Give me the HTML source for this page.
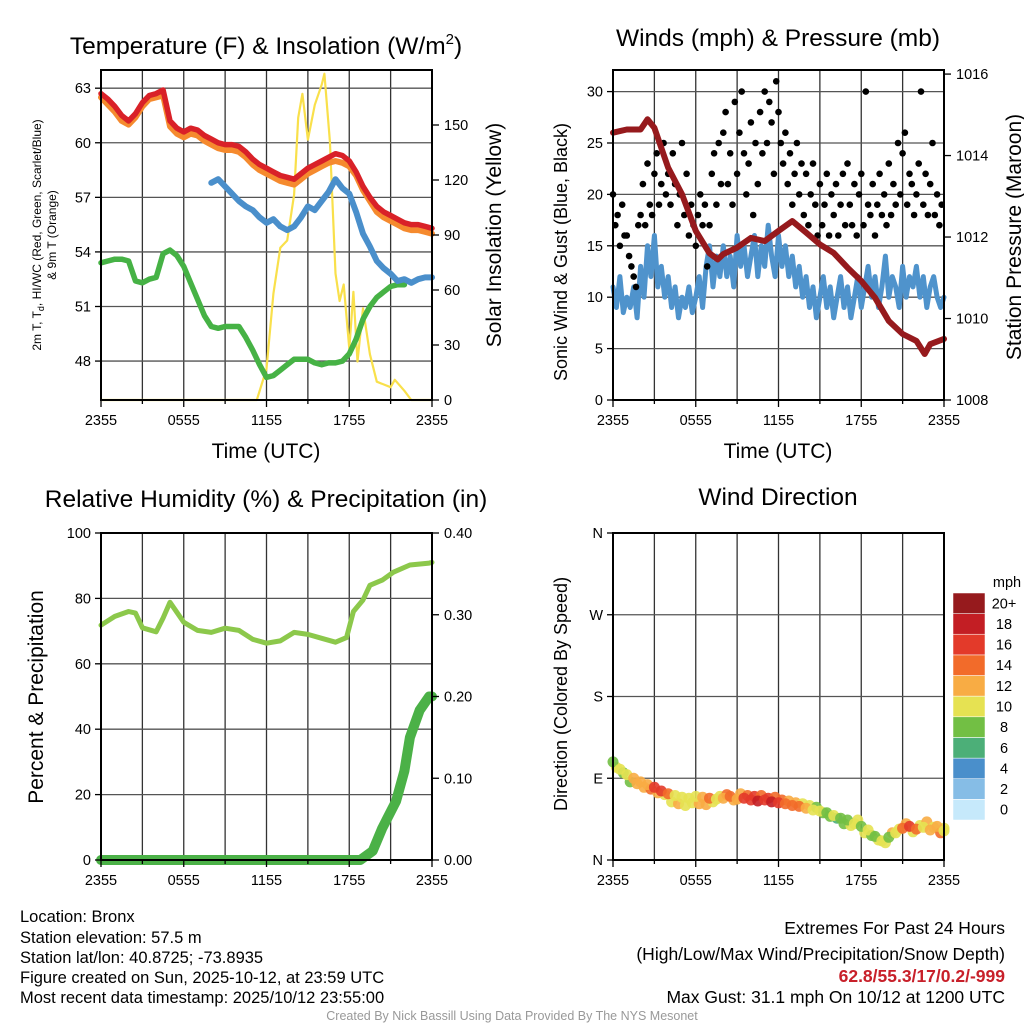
<!DOCTYPE html>
<html><head><meta charset="utf-8"><style>
html,body{margin:0;padding:0;background:#fff}
svg{display:block;font-family:"Liberation Sans",sans-serif}
</style></head><body>
<svg id="c" width="1024" height="1024" viewBox="0 0 1024 1024" xmlns="http://www.w3.org/2000/svg">
<g id="grid"></g><g id="marks"></g><g id="frames"></g>
<g id="texts" font-size="14.5" fill="#000">
<text x="266" y="54" font-size="24.5" text-anchor="middle">Temperature (F) &amp; Insolation (W/m<tspan dy="-10" font-size="15">2</tspan><tspan dy="10">)</tspan></text>
<text x="778" y="46" font-size="24.5" text-anchor="middle">Winds (mph) &amp; Pressure (mb)</text>
<text x="266" y="507" font-size="24.5" text-anchor="middle">Relative Humidity (%) &amp; Precipitation (in)</text>
<text x="778" y="505" font-size="24.5" text-anchor="middle">Wind Direction</text>
<text x="266" y="458" font-size="21" text-anchor="middle">Time (UTC)</text>
<text x="778" y="458" font-size="21" text-anchor="middle">Time (UTC)</text>
<g font-size="12" text-anchor="middle">
<text transform="translate(41,235) rotate(-90)">2m T, T<tspan dy="3" font-size="9">d</tspan><tspan dy="-3">, HI/WC (Red, Green, Scarlet/Blue)</tspan></text>
<text transform="translate(56,235) rotate(-90)">&amp; 9m T (Orange)</text>
</g>
<text transform="translate(501,235) rotate(-90)" font-size="21" text-anchor="middle">Solar Insolation (Yellow)</text>
<text transform="translate(567,252) rotate(-90)" font-size="18" text-anchor="middle">Sonic Wind &amp; Gust (Blue, Black)</text>
<text transform="translate(1021,237) rotate(-90)" font-size="21" text-anchor="middle">Station Pressure (Maroon)</text>
<text transform="translate(43,697) rotate(-90)" font-size="21" text-anchor="middle">Percent &amp; Precipitation</text>
<text transform="translate(567,694) rotate(-90)" font-size="18" text-anchor="middle">Direction (Colored By Speed)</text>
<g font-size="16.5">
<text x="20" y="922">Location: Bronx</text>
<text x="20" y="943">Station elevation: 57.5 m</text>
<text x="20" y="963">Station lat/lon: 40.8725; -73.8935</text>
<text x="20" y="983">Figure created on Sun, 2025-10-12, at 23:59 UTC</text>
<text x="20" y="1003">Most recent data timestamp: 2025/10/12 23:55:00</text>
</g>
<g font-size="17.5" text-anchor="end">
<text x="1005" y="934">Extremes For Past 24 Hours</text>
<text x="1005" y="960">(High/Low/Max Wind/Precipitation/Snow Depth)</text>
<text x="1005" y="982" fill="#c8202a" font-weight="bold">62.8/55.3/17/0.2/-999</text>
<text x="1005" y="1003">Max Gust: 31.1 mph On 10/12 at 1200 UTC</text>
</g>
<text x="512" y="1020" font-size="12.5" fill="#999" text-anchor="middle">Created By Nick Bassill Using Data Provided By The NYS Mesonet</text>
</g>
</svg>
<script>
// ---- data ----
const xTickLabels = ["2355","0555","1155","1755","2355"];
const halfHours = Array.from({length:49},(_, i)=>i/2);
const tempRed = [62.7,62.4,62.0,61.5,61.2,61.6,62.2,62.6,62.7,62.9,61.2,60.8,60.6,60.8,60.7,60.4,60.2,60.0,59.9,59.9,59.8,59.5,59.1,58.8,58.6,58.4,58.2,58.1,58.0,58.3,58.6,58.8,59.0,59.2,59.4,59.3,59.0,58.4,57.6,57.0,56.5,56.2,56.0,55.8,55.6,55.5,55.5,55.4,55.3];
const tempOrange = [62.5,62.1,61.7,61.2,61.0,61.4,62.0,62.4,62.5,62.6,60.9,60.5,60.3,60.5,60.4,60.1,59.9,59.7,59.6,59.6,59.5,59.2,58.8,58.5,58.3,58.1,57.9,57.8,57.7,58.0,58.3,58.5,58.7,58.9,59.0,58.9,58.7,58.2,57.4,56.8,56.2,55.9,55.7,55.5,55.3,55.2,55.2,55.1,55.0];
const blueHours = Array.from({length:33},(_, i)=>8+i/2);
const tempBlue = [57.8,58.0,57.6,57.2,56.8,56.5,56.3,55.9,55.6,55.8,55.4,55.2,55.4,55.9,56.5,56.3,56.8,57.3,58.0,57.5,57.2,56.2,55.0,54.3,53.5,53.1,52.8,52.4,52.5,52.3,52.5,52.6,52.6];
const greenHours = Array.from({length:45},(_, i)=>i/2);
const dewGreen = [53.4,53.5,53.6,53.6,53.5,52.4,52.3,52.5,52.6,53.9,54.1,53.8,53.2,52.3,51.4,50.5,49.9,49.8,49.9,49.9,49.9,49.3,48.6,47.8,47.1,47.2,47.5,47.8,48.1,48.1,48.1,47.9,47.8,47.9,47.9,48.0,48.4,49.2,50.3,51.0,51.5,51.8,52.1,52.2,52.2];
const solarHours = [0,11.3,12,12.5,13,13.5,14,14.3,14.6,15,15.5,16,16.2,16.6,17,17.3,17.6,18,18.3,18.6,19,19.5,20,21,21.3,22,22.5,24];
const solarVals = [0,0,17,58,83,87,112,154,167,142,161,172,178,141,69,54,63,28,59,21,50,25,10,7,11,5,0,0];
const presHours = [0,1,2,2.5,3,4,5,6,7,7.6,8,9,10,11,12,13,14,15,16,17,18,19,20,21,22,22.6,23,24];
const presVals = [1014.56,1014.64,1014.64,1014.89,1014.68,1013.70,1013.05,1012.15,1011.6,1011.45,1011.58,1011.74,1011.98,1011.90,1012.15,1012.39,1012.11,1011.82,1011.61,1011.25,1010.92,1010.51,1009.94,1009.62,1009.45,1009.13,1009.37,1009.50];
const windVals = [11,9,12,8.5,10,9,11,8,13,10,15,12,16,11,13,10,12,9,11,8,10,9,11,8.5,10,12,9,13,15,11,14,12,15,12,14,11,16,13,15,12,14,16,12,15,13,17,14,12,16,13,15,12,14,11,13,10,12,9,11,8,10,12,9,11,8,10,12,9,11,8,10,12,9,11,13,10,12,9,11,14,10,12,11,9,13,10,12,11,13,10,12,9,11,12,10,9,10];
const gustVals = [20,17,18,15,19,16,16,14,13,12,11,17,18,21,17,23,19,18,22,24,19,21,25,20,22,19,24,21,17,20,25,18,22,16,19,17,15,18,20,17,19,13,17,22,24,19,25,21,26,28,21,24,19,29,22,26,30,24,20,23,27,18,25,21,28,24,30,25,29,27,22,31,28,25,23,26,21,24,19,22,25,20,23,18,22,17,20,23,19,16,21,17,19,22,16,20,18,21,16,19,22,17,23,19,17,21,16,20,22,17,30,19,18,21,16,19,22,18,20,17,23,18,21,19,25,20,24,26,19,22,21,18,20,23,30,19,22,18,21,25,18,20,17,19];
const rhHours = [0,1,2,2.5,3,4,4.5,5,6,7,8,9,10,11,12,13,14,15,16,17,17.8,18.3,19,19.5,20.4,21.2,22.4,23.8,24];
const rhVals = [71.8,74.5,76,75.5,71,69.8,74,78.8,72.7,70.2,69.6,70.9,70.2,67.5,66.3,67,69.6,69,67.8,66.6,68,76,79.5,84,85.6,88,90.2,90.8,91];
const precipHours = [0,18.8,19.7,20.4,21.4,22,22.4,23.1,23.8,24];
const precipVals = [0,0,0.011,0.039,0.072,0.109,0.15,0.183,0.2,0.2];
const dirVals = [108,100,94,90,86,83,80,76,73,71,69,68,70,69,68,67,68,70,67,68,66,65,66,64,63,62,60,59,57,55,54,52,49,46,44,40,37,33,26,21,25,30,35,37,34,36,33,37,32];
const dirVals2 = [102,96,86,84,80,78,74,72,64,62,60,63,62,61,64,70,72,66,73,71,70,71,68,69,66,65,63,62,60,58,52,48,46,40,38,44,30,27,22,19,30,34,40,31,38,42,36,30,35];
const dirSpeeds = [8,10,11,12,12,13,16,17,15,11,10,10,10,12,14,11,13,15,12,16,17,18,17,18,16,14,15,14,12,11,10,9,10,9,8,10,9,10,8,10,9,11,14,16,15,10,12,13,11];
const dirSpeeds2 = [10,9,8,12,13,15,12,10,11,12,10,11,13,12,10,11,14,12,13,15,16,14,17,15,14,12,13,11,10,9,8,9,7,8,10,11,10,9,10,11,12,10,12,10,11,13,10,15,10];
const cbLabels = ["0","2","4","6","8","10","12","14","16","18","20+"];
const cbColors = ["#c6e9fb","#86bde6","#4a8fcb","#4caf78","#72bf44","#e6e252","#f8ac44","#f26b2a","#e33a2a","#c31e24","#961a1d"];

// ---- helpers ----
const NS="http://www.w3.org/2000/svg";
const G=id=>document.getElementById(id);
function mk(tag,parent,attrs){const e=document.createElementNS(NS,tag);for(const k in attrs)e.setAttribute(k,attrs[k]);G(parent).appendChild(e);return e;}
const P1={x0:101,x1:432,y0:70,y1:400}, P2={x0:613,x1:944,y0:70,y1:400}, P3={x0:101,x1:432,y0:533,y1:860}, P4={x0:613,x1:944,y0:533,y1:860};
function xs(p){return h=>p.x0+(p.x1-p.x0)*h/24;}
function ys(p,lo,hi){return v=>p.y1-(p.y1-p.y0)*(v-lo)/(hi-lo);}
function path(xf,yf,hs,vs){return hs.map((h,i)=>(i?'L':'M')+xf(h).toFixed(1)+','+yf(vs[i]).toFixed(1)).join('');}

function frame(p,name,leftTicks,ly,rightTicks,ry){
  for(let k=1;k<8;k++){const x=xs(p)(k*3);
    const l=mk('line','grid',{x1:x,x2:x,y1:p.y0,y2:p.y1,stroke:'#333','stroke-width':1.3});
    
    }
  leftTicks.forEach(t=>{const y=ly(t.v);
    if(y>p.y0+1&&y<p.y1-1){const l=mk('line','grid',{x1:p.x0,x2:p.x1,y1:y,y2:y,stroke:'#555','stroke-width':1.3});
      
      }
    mk('line','frames',{x1:p.x0-6,x2:p.x0,y1:y,y2:y,stroke:'#000','stroke-width':1.3});
    const tx=mk('text','texts',{x:p.x0-10,y:y+5,'text-anchor':'end'});tx.textContent=t.l;
    
    });
  rightTicks.forEach(t=>{const y=ry(t.v);
    mk('line','frames',{x1:p.x1,x2:p.x1+7,y1:y,y2:y,stroke:'#000','stroke-width':1.3});
    const tx=mk('text','texts',{x:p.x1+12,y:y+5});tx.textContent=t.l;
    
    });
  for(let k=0;k<=8;k++){const x=xs(p)(k*3);mk('line','frames',{x1:x,x2:x,y1:p.y1,y2:p.y1+(k%2?4:7),stroke:'#000','stroke-width':1.3});}
  xTickLabels.forEach((s,i)=>{const tx=mk('text','texts',{x:xs(p)(i*6),y:p.y1+25,'text-anchor':'middle'});tx.textContent=s;
    
    });
  const r=mk('rect','frames',{x:p.x0,y:p.y0,width:p.x1-p.x0,height:p.y1-p.y0,fill:'none',stroke:'#000','stroke-width':2});
  
  
}
function line(d,color,w,name){const e=mk('path','marks',{d:d,fill:'none',stroke:color,'stroke-width':w,'stroke-linejoin':'round','stroke-linecap':'round'});
  
  return e;}

// ---- panel 1 ----
{const x=xs(P1), yT=ys(P1,45.86,64.0), yS=ys(P1,0,180);
 frame(P1,'temp',[48,51,54,57,60,63].map(v=>({v,l:String(v)})),yT,[0,30,60,90,120,150].map(v=>({v,l:String(v)})),yS);
 line(path(x,yS,solarHours,solarVals),'#f9e04b',2.2,'solar-line');
 line(path(x,yT,greenHours,dewGreen),'#46b245',5.5,'dewpoint-line');
 line(path(x,yT,blueHours,tempBlue),'#4a8fcb',6,'windchill-line');
 line(path(x,yT,halfHours,tempOrange),'#f58a2e',6,'temp-9m-line');
 line(path(x,yT,halfHours,tempRed),'#d92128',5.5,'temp-2m-line');}
// ---- panel 2 ----
{const x=xs(P2), yW=ys(P2,0,32.1), yP=ys(P2,1008,1016.1);
 frame(P2,'wind',[0,5,10,15,20,25,30].map(v=>({v,l:String(v)})),yW,[1008,1010,1012,1014,1016].map(v=>({v,l:String(v)})),yP);
 line(path(x,yW,windVals.map((_, i)=>i/4),windVals),'#4f93cc',5,'wind-line');
 gustVals.forEach((g,i)=>{const c=mk('circle','marks',{cx:x(i/6).toFixed(1),cy:yW(g).toFixed(1),r:3.3,fill:'#000'});
   
   });
 line(path(x,yP,presHours,presVals),'#961a1d',6,'pressure-line');}
// ---- panel 3 ----
{const x=xs(P3), yR=ys(P3,0,100), yPr=ys(P3,0,0.4);
 frame(P3,'rh',[0,20,40,60,80,100].map(v=>({v,l:String(v)})),yR,[0,0.1,0.2,0.3,0.4].map(v=>({v,l:v.toFixed(2)})),yPr);
 line(path(x,yR,rhHours,rhVals),'#8cc84b',5,'rh-line');
 line(path(x,yPr,precipHours,precipVals),'#4bb147',10,'precip-line');}
// ---- panel 4 ----
{const x=xs(P4), yD=ys(P4,0,360);
 frame(P4,'dir',[0,90,180,270,360].map((v,i)=>({v,l:["N","E","S","W","N"][i]})),yD,[],yD);
 function dots(vals,spds,off){vals.forEach((d,i)=>{const b=Math.max(0,Math.min(10,Math.floor(spds[i]/2)));
   const c=mk('circle','marks',{cx:x(Math.min(24,halfHours[i]+off)).toFixed(1),cy:yD(d).toFixed(1),r:5.5,fill:cbColors[b],opacity:0.9});
   
   });}
 dots(dirVals2,dirSpeeds2,0.25);
 dots(dirVals,dirSpeeds,0);
 const bx=953,bw=32,bh=(820-593)/11;
 cbColors.forEach((col,i)=>{const y=820-(i+1)*bh;
   const r=mk('rect','marks',{x:bx,y:y.toFixed(1),width:bw,height:bh.toFixed(1),fill:col,stroke:'#fff','stroke-width':0.5});
   
   
   const t=mk('text','texts',{x:1004,y:(y+bh/2+5).toFixed(1),'text-anchor':'middle'});t.textContent=cbLabels[i];
   
   });
 const m=mk('text','texts',{x:1007,y:587,'text-anchor':'middle'});m.textContent='mph';
 
 }
</script>
</body></html>
